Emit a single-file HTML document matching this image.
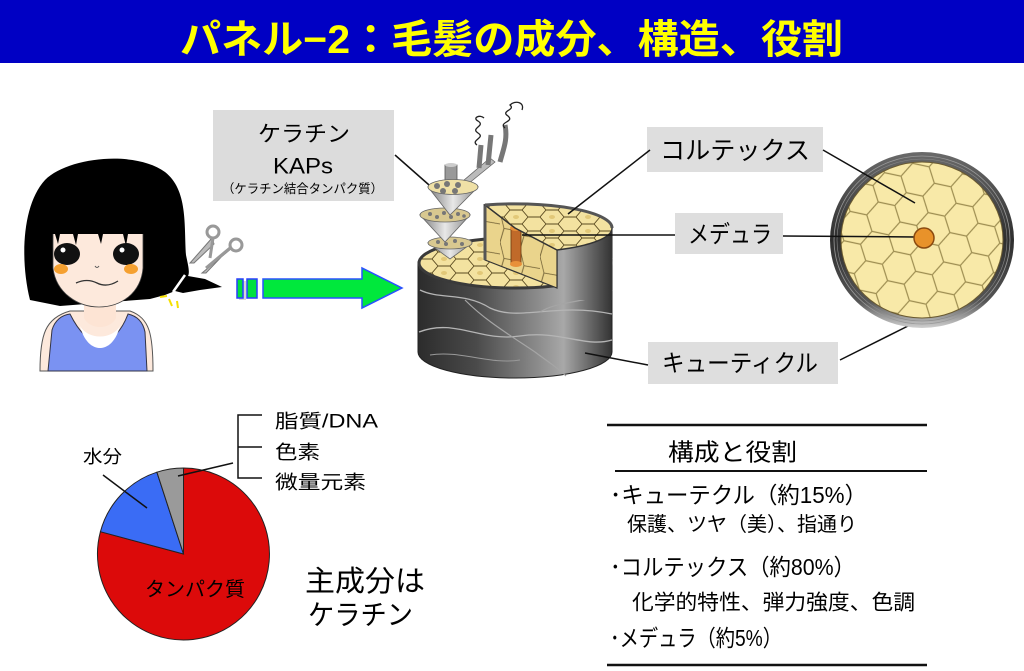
<!DOCTYPE html>
<html><head><meta charset="utf-8">
<style>
html,body{margin:0;padding:0;background:#fff;}
svg{display:block;font-family:"Liberation Sans","Noto Sans CJK JP",sans-serif;}
</style></head><body>
<svg width="1024" height="671" viewBox="0 0 1024 671" xmlns="http://www.w3.org/2000/svg">
<defs>
  <linearGradient id="bodyGrad" gradientUnits="userSpaceOnUse" x1="418" y1="0" x2="612" y2="0">
    <stop offset="0" stop-color="#2c2c2c"/>
    <stop offset="0.3" stop-color="#4a4a4a"/>
    <stop offset="0.62" stop-color="#8c8c8c"/>
    <stop offset="0.75" stop-color="#a8a8a8"/>
    <stop offset="0.88" stop-color="#6a6a6a"/>
    <stop offset="1" stop-color="#333"/>
  </linearGradient>
  <linearGradient id="ringGrad" x1="0" y1="0" x2="0" y2="1">
    <stop offset="0" stop-color="#6a6a6a"/>
    <stop offset="0.5" stop-color="#2e2e2e"/>
    <stop offset="0.85" stop-color="#555"/>
    <stop offset="1" stop-color="#d0d0d0"/>
  </linearGradient>
  <linearGradient id="coneGrad" x1="0" y1="0" x2="1" y2="0">
    <stop offset="0" stop-color="#7a7a7a"/>
    <stop offset="0.5" stop-color="#e8e8e8"/>
    <stop offset="1" stop-color="#8a8a8a"/>
  </linearGradient>
  <pattern id="cellSmall" patternUnits="userSpaceOnUse" width="36" height="14">
    <rect width="36" height="14" fill="#f3e2a0"/>
    <path d="M0,7 L6,0 L18,0 L24,7 L18,14 L6,14 Z M24,7 L36,7" fill="none" stroke="#5a4a20" stroke-width="0.9"/>
    <ellipse cx="12" cy="7" rx="3" ry="2" fill="#e2c878"/>
  </pattern>
  <pattern id="cellFace" patternUnits="userSpaceOnUse" width="20" height="30" patternTransform="skewY(20)">
    <rect width="20" height="30" fill="#ead48c"/>
    <path d="M0,0 L4,15 L0,30 M4,15 L20,12" fill="none" stroke="#6a5a30" stroke-width="0.8"/>
  </pattern>
  <pattern id="cellBig" patternUnits="userSpaceOnUse" width="51" height="30" patternTransform="rotate(12)">
    <rect width="51" height="30" fill="#f8e9a8"/>
    <path d="M0,15 L8.5,0 L25.5,0 L34,15 L25.5,30 L8.5,30 Z M34,15 L51,15" fill="none" stroke="#9c8c50" stroke-width="1.2"/>
  </pattern>
</defs>

<!-- Title -->
<rect x="0" y="0" width="1024" height="63" fill="#0000c4"/>
<text x="180" y="40" font-size="40" font-weight="bold" fill="#ffff00" dominant-baseline="central" textLength="663" lengthAdjust="spacingAndGlyphs">パネル−2：毛髪の成分、構造、役割</text>

<!-- Girl -->
<path d="M30,300 C20,260 22,205 45,180 C68,157 135,150 165,172 C188,190 184,225 186,255 C188,265 190,272 188,276 L205,279 L222,287 L200,290 L183,293 L175,291 L165,295 L150,299 L60,306 Z" fill="#000"/>
<path d="M185,275 L173,292" stroke="#fff" stroke-width="2.5"/>
<path d="M40,371 C40,335 45,318 70,311 L130,311 C150,318 153,335 153,371 Z" fill="#fde9dc" stroke="#555" stroke-width="1"/>
<path d="M84,296 L84,318 C90,330 110,330 116,318 L116,296 Z" fill="#fde4d4"/>
<path d="M48,371 L52,330 C55,320 62,315 70,314 C78,330 88,342 100,342 C112,342 122,330 128,314 C137,316 143,322 145,332 L147,371 Z" fill="#7a92f2" stroke="#334" stroke-width="1"/>
<path d="M80,326 C88,340 112,340 120,326 C115,345 105,348 100,348 C95,348 85,345 80,326 Z" fill="#fff"/>
<path d="M53,230 L53,268 C56,293 78,307 99,307 C121,307 141,293 143,268 L143,230 Z" fill="#fde9dc" stroke="#444" stroke-width="0.8"/>
<path d="M50,200 L147,200 L147,234 L128,234 L126,246 L123,234 L103,234 L101,244 L98,234 L78,234 L76,245 L73,234 L60,234 L58,244 L55,234 L50,234 Z" fill="#000"/>
<ellipse cx="67" cy="254" rx="13" ry="11" fill="#111"/>
<ellipse cx="126" cy="254" rx="13" ry="11" fill="#111"/>
<circle cx="63" cy="250" r="2.5" fill="#fff"/>
<circle cx="122" cy="250" r="2.5" fill="#fff"/>
<ellipse cx="61" cy="269" rx="7" ry="5" fill="#f5a030"/>
<ellipse cx="131" cy="269" rx="7" ry="5" fill="#f5a030"/>
<path d="M95,266 Q97,269 99,266" stroke="#555" fill="none" stroke-width="1"/>
<path d="M76,283 Q87,278 97,283 Q107,288 118,281" stroke="#333" fill="none" stroke-width="1.3"/>
<!-- sparks -->
<path d="M160,297 L167,296 M169,299 L172,306 M177,301 L178,308" stroke="#f5e000" stroke-width="2"/>
<!-- scissors -->
<path d="M212,238 L190,263 L194,263 L214,244 Z" fill="#bbb" stroke="#777" stroke-width="1"/>
<path d="M232,248 L202,273 L206,273 L226,252 Z" fill="#bbb" stroke="#777" stroke-width="1"/>
<path d="M213,238 L210,258 M230,248 L206,268" stroke="#999" stroke-width="3"/>
<circle cx="213" cy="232" r="6" fill="#fff" stroke="#999" stroke-width="3"/>
<circle cx="236" cy="245" r="6" fill="#fff" stroke="#999" stroke-width="3"/>

<!-- Green arrow -->
<rect x="239" y="281" width="7" height="19" fill="#bbb" opacity="0.6"/>
<rect x="237" y="279" width="6" height="19" fill="#00e040" stroke="#2a3cff" stroke-width="1.5"/>
<rect x="247" y="279" width="10" height="19" fill="#00e040" stroke="#2a3cff" stroke-width="1.5"/>
<path d="M263,279 L362,279 L362,268 L402,288 L362,308 L362,298 L263,298 Z" fill="#00e83c" stroke="#2a50ff" stroke-width="1.5"/>

<!-- Keratin box -->
<rect x="213" y="110" width="181" height="91" fill="#dcdcdc"/>
<text x="258" y="134" font-size="22" fill="#000" dominant-baseline="central" textLength="92" lengthAdjust="spacingAndGlyphs">ケラチン</text>
<text x="273" y="166" font-size="22" fill="#000" dominant-baseline="central" textLength="60" lengthAdjust="spacingAndGlyphs">KAPs</text>
<text x="222" y="189" font-size="12.5" fill="#000" dominant-baseline="central" textLength="161" lengthAdjust="spacingAndGlyphs">（ケラチン結合タンパク質）</text>
<line x1="395" y1="155" x2="437" y2="192" stroke="#111" stroke-width="1.5"/>

<!-- Cylinder -->
<path d="M418,262 L418,352 A97,26 0 0 0 612,352 L612,228 L557,250 L557,287 Z" fill="url(#bodyGrad)" stroke="#222" stroke-width="1"/>
<path d="M420,290 C440,300 465,292 490,308 C520,322 555,302 612,314" stroke="#b5b5b5" stroke-width="1.3" fill="none"/>
<path d="M419,332 C455,318 480,342 520,336 C560,330 585,348 612,340" stroke="#b5b5b5" stroke-width="1.3" fill="none"/>
<path d="M465,300 C485,320 505,332 535,352 C548,362 556,366 566,376" stroke="#a5a5a5" stroke-width="1.2" fill="none"/>
<path d="M540,312 C560,300 585,304 612,290" stroke="#a5a5a5" stroke-width="1.2" fill="none"/>
<path d="M430,355 C460,350 490,365 520,360" stroke="#999" stroke-width="1" fill="none"/>
<path d="M560,270 C575,262 590,268 612,258" stroke="#aaa" stroke-width="1.2" fill="none"/>
<ellipse cx="515" cy="263" rx="96" ry="25" fill="url(#cellSmall)" stroke="#3a3a3a" stroke-width="3"/>
<path d="M557,250 A97,24 0 0 0 612,228 L612,300 L557,300 Z" fill="url(#bodyGrad)"/>
<path d="M557,250 L557,287" stroke="#222" stroke-width="1.2"/>
<polygon points="485,205 515,228 557,250 557,288 485,260" fill="url(#cellFace)" stroke="#333" stroke-width="1.2"/>
<path d="M485,205 L485,260" stroke="#555" stroke-width="3"/>
<rect x="511" y="228" width="10" height="36" fill="#c06a2a" stroke="#6a3a10" stroke-width="0.8"/>
<ellipse cx="516" cy="228" rx="6" ry="3" fill="#e8903a"/>
<ellipse cx="516" cy="264" rx="6" ry="3" fill="#e8903a"/>
<path d="M485,205 A97,24 0 0 1 612,228 A97,24 0 0 1 557,250 L515,228 Z" fill="url(#cellSmall)" stroke="#333" stroke-width="1.5"/>
<path d="M485,205 A97,24 0 0 1 612,228" fill="none" stroke="#555" stroke-width="3"/>

<!-- cones -->
<path d="M428,243 L472,243 L450,259 Z" fill="url(#coneGrad)" stroke="#666" stroke-width="0.8"/>
<ellipse cx="450" cy="243" rx="22" ry="6" fill="#d8c890" stroke="#666" stroke-width="0.8"/>
<g fill="#777"><circle cx="438" cy="242" r="2"/><circle cx="446" cy="244" r="2"/><circle cx="455" cy="241" r="2"/><circle cx="462" cy="244" r="2"/></g>
<path d="M420,215 L470,215 L445,242 Z" fill="url(#coneGrad)" stroke="#666" stroke-width="0.8"/>
<ellipse cx="445" cy="215" rx="25" ry="7" fill="#d8c890" stroke="#666" stroke-width="0.8"/>
<g fill="#777"><circle cx="430" cy="214" r="2"/><circle cx="437" cy="217" r="2"/><circle cx="444" cy="213" r="2"/><circle cx="451" cy="217" r="2"/><circle cx="458" cy="214" r="2"/><circle cx="464" cy="216" r="1.8"/></g>
<path d="M468,184 L495,162 L490,158 L463,181 Z" fill="#bbb" stroke="#666" stroke-width="0.8"/>
<rect x="445" y="165" width="12" height="18" fill="#999" stroke="#555" stroke-width="0.8"/>
<ellipse cx="451" cy="165" rx="6" ry="2" fill="#ccc"/>
<path d="M428,187 L478,187 L450,215 Z" fill="url(#coneGrad)" stroke="#666" stroke-width="0.8"/>
<ellipse cx="453" cy="187" rx="25" ry="7.5" fill="#efe0a6" stroke="#666" stroke-width="0.8"/>
<g fill="#777"><circle cx="437" cy="186" r="3"/><circle cx="447" cy="184" r="3"/><circle cx="458" cy="185" r="3"/><circle cx="443" cy="191" r="3"/><circle cx="455" cy="191" r="3"/></g>
<path d="M481,145 L479,168 M491,135 L488,165 M505,125 C508,140 503,150 500,162" stroke="#777" stroke-width="5" fill="none"/>
<path d="M477,145 C470,140 486,138 478,133 C470,128 486,126 478,121 C472,118 480,114 484,118" stroke="#222" stroke-width="1.3" fill="none"/>
<path d="M505,128 C498,122 515,122 508,116 C500,111 516,110 510,105 C515,100 525,102 522,110" stroke="#222" stroke-width="1.3" fill="none"/>

<!-- Labels -->
<rect x="647" y="127" width="176" height="45" fill="#dedede"/>
<text x="660" y="151" font-size="25" fill="#000" dominant-baseline="central" textLength="150" lengthAdjust="spacingAndGlyphs">コルテックス</text>
<rect x="675" y="213" width="108" height="41" fill="#dedede"/>
<text x="688" y="235" font-size="24" fill="#000" dominant-baseline="central" textLength="84" lengthAdjust="spacingAndGlyphs">メデュラ</text>
<rect x="648" y="342" width="190" height="42" fill="#dedede"/>
<text x="662" y="364" font-size="24" fill="#000" dominant-baseline="central" textLength="156" lengthAdjust="spacingAndGlyphs">キューティクル</text>

<g stroke="#111" stroke-width="1.5">
<line x1="568" y1="214" x2="650" y2="150"/>
<line x1="522" y1="235" x2="675" y2="235"/>
<line x1="585" y1="353" x2="648" y2="365"/>
<line x1="840" y1="360" x2="910" y2="325"/>
</g>

<!-- Cross section -->
<ellipse cx="922" cy="240" rx="92" ry="88" fill="url(#ringGrad)"/>
<ellipse cx="922" cy="240" rx="88" ry="84" fill="none" stroke="#999" stroke-width="0.8"/>
<ellipse cx="922" cy="240" rx="85" ry="81" fill="none" stroke="#888" stroke-width="0.6"/>
<ellipse cx="922" cy="240" rx="81" ry="78" fill="url(#cellBig)" stroke="#6a5a30" stroke-width="1"/>
<line x1="823" y1="150" x2="915" y2="203" stroke="#111" stroke-width="1.5"/>
<line x1="783" y1="236" x2="915" y2="237" stroke="#111" stroke-width="1.5"/>
<circle cx="924" cy="238" r="10" fill="#e8922a" stroke="#8a4a10" stroke-width="1.5"/>

<!-- Pie -->
<path d="M183.5,554 L183.5,468 A86,86 0 1 1 100.4,531.7 Z" fill="#dc0a0a" stroke="#222" stroke-width="1"/>
<path d="M183.5,554 L100.4,531.7 A86,86 0 0 1 156.9,472.2 Z" fill="#3a6cf5" stroke="#222" stroke-width="1"/>
<path d="M183.5,554 L156.9,472.2 A86,86 0 0 1 183.5,468 Z" fill="#9a9a9a" stroke="#222" stroke-width="1"/>
<text x="145" y="590" font-size="20" fill="#000" dominant-baseline="central" textLength="100" lengthAdjust="spacingAndGlyphs">タンパク質</text>
<text x="83" y="457" font-size="18" fill="#000" dominant-baseline="central" textLength="39" lengthAdjust="spacingAndGlyphs">水分</text>
<line x1="103" y1="475" x2="147" y2="508" stroke="#111" stroke-width="1.5"/>
<line x1="178" y1="476" x2="233" y2="463" stroke="#111" stroke-width="1.5"/>
<path d="M262,415 L238,415 L238,478 L262,478 M238,447 L262,447" stroke="#111" stroke-width="1.5" fill="none"/>
<text x="275" y="422" font-size="19" fill="#000" dominant-baseline="central" textLength="103" lengthAdjust="spacingAndGlyphs">脂質/DNA</text>
<text x="275" y="453" font-size="19" fill="#000" dominant-baseline="central" textLength="45" lengthAdjust="spacingAndGlyphs">色素</text>
<text x="275" y="483" font-size="19" fill="#000" dominant-baseline="central" textLength="91" lengthAdjust="spacingAndGlyphs">微量元素</text>
<text x="305" y="582" font-size="29" fill="#000" dominant-baseline="central" textLength="120" lengthAdjust="spacingAndGlyphs">主成分は</text>
<text x="308" y="615" font-size="28" fill="#000" dominant-baseline="central" textLength="105" lengthAdjust="spacingAndGlyphs">ケラチン</text>

<!-- Table -->
<line x1="607" y1="425" x2="927" y2="425" stroke="#111" stroke-width="2.5"/>
<line x1="615" y1="471" x2="927" y2="471" stroke="#111" stroke-width="2"/>
<line x1="607" y1="665" x2="927" y2="665" stroke="#111" stroke-width="2.5"/>
<text x="668" y="453" font-size="24" fill="#000" dominant-baseline="central" textLength="129" lengthAdjust="spacingAndGlyphs">構成と役割</text>
<text x="610" y="495" font-size="23" fill="#000" dominant-baseline="central" textLength="257" lengthAdjust="spacingAndGlyphs">･キューテクル（約15%）</text>
<text x="627" y="525" font-size="20" fill="#000" dominant-baseline="central" textLength="230" lengthAdjust="spacingAndGlyphs">保護、ツヤ（美）、指通り</text>
<text x="610" y="567" font-size="23" fill="#000" dominant-baseline="central" textLength="245" lengthAdjust="spacingAndGlyphs">･コルテックス（約80%）</text>
<text x="632" y="603" font-size="21" fill="#000" dominant-baseline="central" textLength="283" lengthAdjust="spacingAndGlyphs">化学的特性、弾力強度、色調</text>
<text x="610" y="638" font-size="23" fill="#000" dominant-baseline="central" textLength="172" lengthAdjust="spacingAndGlyphs">･メデュラ（約5%）</text>
</svg>
</body></html>
